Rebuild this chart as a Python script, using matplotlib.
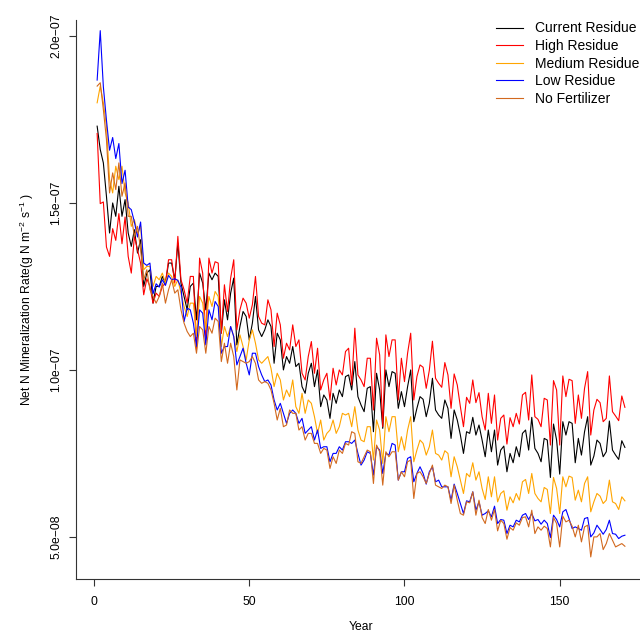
import numpy as np
import matplotlib
matplotlib.use('Agg')
import matplotlib.pyplot as plt
from matplotlib.ticker import FuncFormatter

plt.rcParams['font.family'] = ['Liberation Sans', 'DejaVu Sans']
plt.rcParams['mathtext.fontset'] = 'custom'
plt.rcParams['mathtext.rm'] = 'Liberation Sans'
plt.rcParams['mathtext.it'] = 'Liberation Sans:italic'

# years 1..171, values in units of 1e-8 g N m-2 s-1
years = np.arange(1, 172)
unit = 1e-8

current = [17.3, 16.6, 16.2, 15.2, 14.1, 15.0, 14.6, 15.5, 14.6, 15.1,
           14.1, 13.7, 14.2, 13.5, 13.9, 12.5, 12.9, 13.0, 12.0, 12.5,
           12.5, 12.8, 12.6, 13.2, 13.2, 12.7, 13.8, 12.6, 12.2, 11.8,
           12.5, 12.6, 11.5, 12.9, 12.6, 11.8, 12.9, 12.7,
           12.9, 12.8, 11.1, 12.1, 11.5, 12.3, 12.75, 10.75, 11.3, 11.75,
           11.6, 10.9, 11.4, 12.2, 11.2, 11.0, 11.2, 11.5, 11.3, 10.2,
           11.1, 10.9, 10.0, 10.4, 10.2, 10.7, 10.1, 10.2, 9.5, 9.3,
           9.9, 10.2, 9.5, 10.0, 8.9, 9.25, 9.1, 8.55, 9.3, 9.0,
           9.4, 9.2,
           9.8, 9.85, 9.4, 10.25, 9.2, 8.95, 8.75, 9.45, 9.5, 8.15,
           9.9, 9.4, 8.25, 10.0, 9.5, 9.95, 9.9, 8.85, 9.35, 8.9,
           9.5, 10.0,
           8.45, 8.85, 9.2, 9.12, 8.6, 9.0, 9.75,
           8.80, 8.65, 8.55, 9.10, 8.85, 7.95, 8.80, 8.50, 8.05, 7.50,
           8.15, 8.10, 8.58, 8.05, 8.35, 7.90, 7.40, 8.20, 7.55, 8.20,
           7.15, 7.60, 7.72, 6.95, 7.50, 7.22, 7.70, 7.40, 8.10, 8.20,
           7.60, 8.58, 7.65, 7.50, 7.25, 7.95, 7.90, 6.78, 8.38, 7.90,
           6.88, 8.45, 8.05, 8.45, 8.40, 7.22, 7.95, 7.45, 8.15, 8.60,
           7.15, 7.42, 7.90, 7.80, 7.40, 7.55, 8.47, 7.60, 7.45, 7.32,
           7.88, 7.68]

high = [17.08, 14.98, 15.03, 13.68, 13.4, 14.23, 13.88, 14.68, 13.78, 14.58,
        13.4, 12.9, 14.0, 13.6, 13.2, 12.25, 12.73, 12.5, 12.0, 12.3,
        12.2, 12.5, 12.6, 13.3, 13.3, 12.6, 14.0, 12.7, 12.4, 12.0,
        12.8, 12.8, 10.6, 13.35, 12.9, 10.9, 13.35, 12.9,
        13.24, 13.2, 11.1, 12.55, 11.75, 12.75, 13.3, 11.2, 11.8, 12.15,
        12.0, 11.55, 11.95, 12.8, 11.6, 11.4, 11.35, 12.1, 11.8, 10.7,
        11.7, 11.35, 10.35, 10.8, 10.6, 11.35, 10.7, 10.9, 9.9, 9.7,
        10.4, 10.85, 9.9, 10.65, 9.4, 9.7, 9.9, 9.1, 10.05, 9.55,
        10.0, 9.85,
        10.55, 10.65, 9.55, 11.25, 9.85, 9.7, 9.5, 10.35, 10.35, 8.8,
        10.95, 10.45, 8.3, 11.05, 10.4, 10.9, 10.9, 9.1, 10.35, 9.65,
        10.5, 11.1,
        9.10, 9.80, 10.15, 10.08, 9.45, 9.99, 10.86, 9.75, 9.60, 9.48,
        10.22, 9.85, 8.85, 9.88, 9.55, 8.90, 8.30, 9.18, 9.00, 9.70,
        9.02, 9.32, 8.60, 8.20, 9.30, 8.40, 9.25, 7.90, 8.55, 8.65,
        7.78, 8.57, 8.30, 8.70, 8.38, 9.25, 9.33, 8.50, 9.85, 8.60,
        8.52, 8.30, 9.15, 9.10, 7.75, 9.68, 9.40, 7.75, 9.82, 9.20,
        9.72, 9.68, 8.40, 9.25, 8.55, 9.45, 9.95, 8.05, 8.80, 9.12,
        9.02, 8.45, 8.55, 9.82, 8.75, 8.62, 8.48, 9.22, 8.88]

medium = [18.0, 18.5, 18.0, 17.3, 15.7, 15.3, 16.1, 15.7, 16.1, 15.3,
          15.0, 14.3, 14.5, 14.1, 14.3, 13.0, 13.1, 13.1, 12.5, 12.8,
          12.7, 12.9, 12.6, 12.9, 12.8, 12.5, 12.7, 12.3, 11.9, 11.6,
          12.0, 12.0, 11.0, 12.2, 12.0, 11.2, 12.2, 11.9,
          12.35, 12.2, 10.7, 11.3, 11.0, 11.3, 11.0, 10.55, 11.05, 10.7,
          10.3, 10.9, 11.2, 10.8, 10.3, 10.2, 10.3, 10.4, 10.05, 9.5,
          9.9, 9.7, 9.1, 9.4, 9.2, 9.7, 8.9, 8.7, 9.3, 8.7,
          9.1, 9.0, 8.6, 8.1, 8.5, 7.9, 8.1, 8.2, 8.5, 8.1,
          8.3, 8.7,
          8.65, 8.7, 8.3, 8.9, 8.2, 7.9, 7.85, 8.3, 8.3, 7.3,
          8.5, 8.2, 7.2, 8.6, 8.15, 8.6, 8.6, 7.55, 8.0, 7.6,
          8.2, 8.6,
          7.25, 7.6, 7.9, 7.8, 7.45, 7.7, 8.2, 7.5, 7.45, 7.3,
          7.58, 7.5, 6.8, 7.4, 7.1, 6.7, 6.3, 6.9, 6.8, 7.22,
          6.7, 6.95, 6.45, 6.12, 6.8, 6.2, 6.8, 6.05, 6.3, 6.38,
          5.8, 6.2, 6.02, 6.3, 6.1, 6.65, 6.72, 6.3, 6.9, 6.3,
          6.15, 6.05, 6.48, 6.42, 5.7, 6.78, 6.45, 5.7, 6.8, 6.5,
          6.82, 6.78, 6.1, 6.4, 6.05, 6.6, 6.8, 5.75, 6.05, 6.3,
          6.22, 6.0, 6.1, 6.7, 6.05, 6.0, 5.82, 6.2, 6.08]

low = [18.68, 20.16, 18.48, 17.48, 16.58, 16.96, 16.33, 16.78, 15.58, 15.98,
       14.88, 14.8, 14.43, 13.98, 14.43, 13.2, 13.13, 13.2, 12.28, 12.58,
       12.48, 12.7, 12.53, 12.83, 12.7, 12.73, 12.68, 12.48, 11.45, 11.85,
       11.8, 11.4, 10.7, 11.8, 11.7, 10.75, 11.8, 11.5,
       12.05, 11.9, 10.5, 10.7, 10.7, 11.3, 11.0, 10.15, 10.4, 10.65,
       10.2, 9.85, 10.5, 10.5, 10.1, 9.85, 9.65, 9.7, 9.55, 9.1,
       8.8, 9.0, 8.7, 8.4, 8.7, 8.8, 8.7, 8.4, 8.55, 8.1,
       8.2, 8.3, 7.9, 8.2, 7.65, 7.7, 7.7, 7.25, 7.5, 7.5,
       7.7, 7.6,
       7.85, 7.85, 7.8, 7.9, 7.5, 7.15, 7.3, 7.55, 7.5, 6.85,
       7.7, 7.6, 6.9, 7.5, 7.45, 7.8, 7.75, 6.7, 6.95, 6.95,
       7.35, 7.4,
       6.65, 6.9, 7.1, 6.9, 6.58, 6.95, 7.1, 6.65, 6.7, 6.5,
       6.5, 6.5, 6.1, 6.58, 6.3, 6.0, 5.7, 6.08, 6.05, 6.35,
       5.8, 6.05, 5.65, 5.7, 5.78, 5.6, 5.92, 5.4, 5.52, 5.5,
       5.1, 5.35, 5.3, 5.5, 5.45, 5.65, 5.7, 5.52, 5.7, 5.48,
       5.52, 5.38, 5.5, 5.4, 4.98, 5.65, 5.52, 5.3, 5.75, 5.82,
       5.55, 5.25, 5.3, 5.25, 5.2, 5.55, 5.58, 5.0, 5.12, 5.35,
       5.22, 5.08, 5.22, 5.5, 5.1, 5.08, 4.95, 5.02, 5.05]

nofert = [18.5, 18.6, 17.8, 16.9, 15.3, 15.9, 15.4, 16.2, 15.2, 15.6,
          14.6, 14.6, 14.0, 14.3, 13.6, 12.7, 13.0, 12.4, 12.2, 12.0,
          12.2, 12.6, 12.0, 12.4, 12.7, 12.3, 12.4, 11.8, 11.4, 11.15,
          11.0, 11.1, 10.5, 11.3, 11.2, 10.5, 11.3, 11.1,
          11.55, 11.45, 10.25, 10.8, 10.2, 10.8, 10.4, 9.4, 10.3, 10.25,
          10.2, 10.25, 10.4, 10.2, 9.7, 9.6, 9.65, 9.6, 9.4, 9.0,
          8.5, 8.85, 8.3, 8.35, 8.8, 8.7, 8.7, 8.2, 8.3, 7.9,
          8.1, 8.1, 7.8, 7.8, 7.5, 7.65, 7.6, 7.05, 7.4, 7.2,
          7.6, 7.5,
          7.8, 7.75, 8.15, 8.1, 7.25, 7.2, 7.4, 7.6, 7.55, 6.6,
          7.75, 7.55, 6.55, 7.55, 7.4, 7.55, 7.55, 6.7, 6.95, 6.8,
          7.25, 7.3,
          6.15, 6.9, 6.95, 6.8, 6.6, 6.9, 7.15, 6.55, 6.5, 6.45,
          6.55, 6.5, 6.0, 6.55, 6.1, 5.7, 5.65, 6.05, 6.02, 6.35,
          5.65, 6.1, 5.58, 5.4, 5.82, 5.5, 5.82, 5.18, 5.5, 5.4,
          4.93, 5.28, 5.2, 5.42, 5.35, 5.58, 5.6, 5.3, 5.8, 5.1,
          5.3, 5.2, 5.32, 5.25, 4.7, 5.58, 5.4, 4.7, 5.62, 5.45,
          5.5, 5.32, 5.0, 5.35, 4.85, 5.3, 5.35, 4.4, 5.0, 5.0,
          5.1, 4.62, 4.8, 5.1, 4.9, 4.7, 4.75, 4.8, 4.72]

series = [current, high, medium, low, nofert]
labels = ['Current Residue', 'High Residue', 'Medium Residue',
          'Low Residue', 'No Fertilizer']
colors = ['black', 'red', 'orange', 'blue', 'chocolate']

fig = plt.figure(figsize=(6.4, 6.34), dpi=100)
ax = fig.add_axes([0.1188, 0.0868, 0.8906, 0.8817])

for vals, col, lab in zip(series, colors, labels):
    ax.plot(years, np.array(vals) * unit, color=col, lw=0.8, label=lab)

ax.set_xlim(-5.8, 177.8)
ax.set_ylim(3.74e-8, 20.48e-8)
ax.set_xticks([0, 50, 100, 150])
ax.set_yticks([5e-8, 1e-7, 1.5e-7, 2e-7])
ax.yaxis.set_major_formatter(
    FuncFormatter(lambda v, p: ('%.1e' % v).replace('-', '\u2212')))

for s in ['top', 'right']:
    ax.spines[s].set_visible(False)
for s in ['left', 'bottom']:
    ax.spines[s].set_linewidth(0.8)
    ax.spines[s].set_color('#333333')

ax.tick_params(axis='both', direction='out', length=5, width=0.8,
               color='#333333', labelsize=8.7)
ax.tick_params(axis='x', pad=7.5)
ax.tick_params(axis='y', pad=5, labelrotation=90)
plt.setp(ax.get_yticklabels(), va='center')

ax.set_xlabel('Year', fontsize=8.7, labelpad=9)
ax.set_ylabel(r'Net N Mineralization Rate(g N m$^{-2}$ s$^{-1}$ )',
              fontsize=8.7, labelpad=10)

ax.legend(loc='upper left', bbox_to_anchor=(496 / 640, 1 - 21.5 / 634),
          bbox_transform=fig.transFigure, frameon=False, fontsize=10,
          handlelength=1.95, handletextpad=0.86, labelspacing=0.26,
          borderpad=0, borderaxespad=0)

fig.savefig('out.png', dpi=100)
